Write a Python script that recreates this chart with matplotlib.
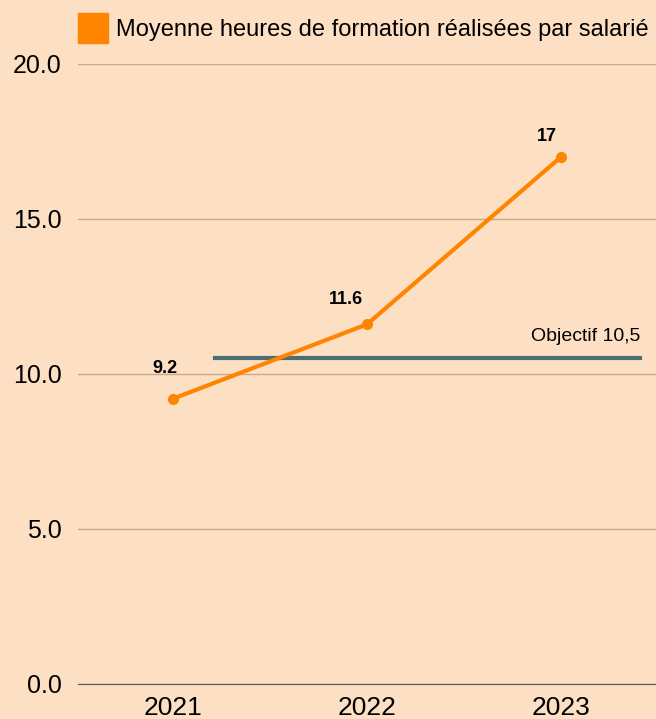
import matplotlib

matplotlib.use("Agg")
import matplotlib.pyplot as plt
from matplotlib.lines import Line2D

YEARS = ["2021", "2022", "2023"]
HOURS = [9.2, 11.6, 17]
HOUR_LABELS = ["9.2", "11.6", "17"]
TARGET = 10.5
TARGET_LABEL = "Objectif 10,5"
SERIES_NAME = "Moyenne heures de formation réalisées par salarié"
YTICKS = [0, 5, 10, 15, 20]

BG = "#fde0c4"
ORANGE = "#ff8500"
SLATE = "#4a6e73"
GRID = "#c9ab8c"

# value label nudges, in points
LABEL_OFFSETS = [(-6, 22), (-15, 18), (-10, 15)]

plt.rcParams["font.family"] = ["Liberation Sans", "DejaVu Sans"]

fig = plt.figure(figsize=(6.56, 7.19), dpi=100, facecolor=BG)
ax = fig.add_axes([0.119, 0.049, 0.881, 0.862], facecolor=BG)

x = list(range(len(YEARS)))
ax.plot(x, HOURS, color=ORANGE, lw=3, marker="o", ms=7, zorder=4,
        solid_capstyle="round")

for xi, v, lab, off in zip(x, HOURS, HOUR_LABELS, LABEL_OFFSETS):
    ax.annotate(lab, (xi, v), xytext=off, textcoords="offset points",
                ha="center", va="center", fontsize=13, fontweight="bold",
                color="black")

# target line
ax.plot([0.216, 2.407], [TARGET, TARGET], color=SLATE, lw=3, zorder=3)
ax.text(2.407, TARGET + 0.72, TARGET_LABEL, ha="right", va="center",
        fontsize=14, color="black")

ax.set_xlim(-0.49, 2.49)
ax.set_ylim(0, 20)
ax.set_yticks(YTICKS)
ax.set_yticklabels([f"{t:.1f}" for t in YTICKS])
ax.set_xticks(x)
ax.set_xticklabels(YEARS)

ax.yaxis.grid(True, color=GRID, lw=1)
ax.set_axisbelow(True)
for s in ["top", "right", "left"]:
    ax.spines[s].set_visible(False)
ax.spines["bottom"].set_color("#555555")
ax.tick_params(axis="both", length=0, colors="black")
ax.tick_params(axis="y", pad=12, labelsize=18)
ax.tick_params(axis="x", pad=9, labelsize=19)

handle = Line2D([], [], marker="s", ls="none", color=ORANGE, ms=21)
fig.legend([handle], [SERIES_NAME], loc="upper left",
           bbox_to_anchor=(0.092, 1.003), frameon=False, fontsize=17,
           handletextpad=0.45, handlelength=1.0)

fig.savefig("out.png", dpi=100, facecolor=BG)
